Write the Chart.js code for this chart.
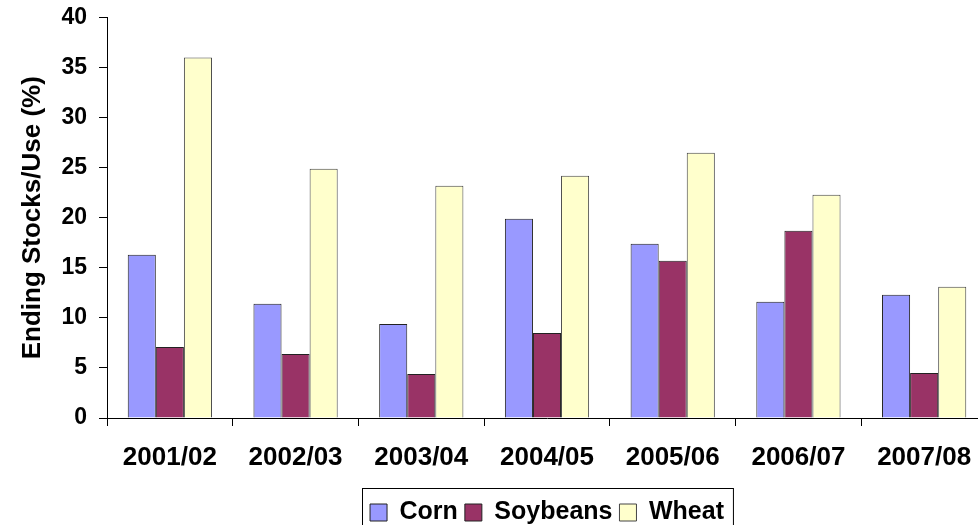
<!DOCTYPE html>
<html>
<head>
<meta charset="utf-8">
<script src="https://cdn.jsdelivr.net/npm/chart.js@4.4.0/dist/chart.umd.min.js"></script>
<style>
  html, body { margin: 0; padding: 0; background: #fff; overflow: hidden; }
  #wrap { width: 990px; height: 545px; }
</style>
</head>
<body>
<div id="wrap"><canvas id="c"></canvas></div>
<script>
'use strict';

const seasons  = ['2001/02', '2002/03', '2003/04', '2004/05', '2005/06', '2006/07', '2007/08'];
const corn     = [16.3, 11.4, 9.4, 19.9, 17.4, 11.6, 12.3];
const soybeans = [7.1, 6.4, 4.4, 8.5, 15.7, 18.7, 4.5];
const wheat    = [36.0, 24.9, 23.2, 24.2, 26.5, 22.3, 13.1];
const yTicks   = [0, 5, 10, 15, 20, 25, 30, 35, 40];

const FONT = '"Liberation Sans", Arial, sans-serif';

// frame round the legend, as in the Excel original
const legendFrame = {
  id: 'legendFrame',
  afterDraw(chart) {
    const boxes = chart.legend && chart.legend.legendHitBoxes;
    if (!boxes || !boxes.length) return;
    const left  = boxes[0].left - 8;
    const right = boxes[boxes.length - 1].left + boxes[boxes.length - 1].width + 9;
    const top   = boxes[0].top - 12;
    const ctx = chart.ctx;
    ctx.save();
    ctx.strokeStyle = '#000';
    ctx.lineWidth = 1;
    ctx.strokeRect(Math.round(left) + 0.5, Math.round(top) + 0.5, right - left, 60);
    ctx.restore();
  }
};

new Chart(document.getElementById('c').getContext('2d'), {
  type: 'bar',
  data: {
    labels: seasons,
    datasets: [
      { label: 'Corn',     data: corn,     backgroundColor: '#9999FF', borderColor: '#222', borderWidth: 1 },
      { label: 'Soybeans', data: soybeans, backgroundColor: '#993366', borderColor: '#222', borderWidth: 1 },
      { label: 'Wheat',    data: wheat,    backgroundColor: '#FFFFCC', borderColor: '#444', borderWidth: 1 },
    ]
  },
  options: {
    responsive: true,
    maintainAspectRatio: false,
    animation: false,
    layout: { padding: { top: 17.5, right: 3, bottom: 10, left: 0 } },
    datasets: { bar: { categoryPercentage: 0.67, barPercentage: 1.0 } },
    plugins: {
      tooltip: { enabled: false },
      legend: {
        position: 'bottom',
        fullSize: false,
        labels: {
          color: '#000',
          font: { family: FONT, size: 25, weight: 'bold' },
          boxWidth: 17, boxHeight: 17, padding: 7,
        }
      }
    },
    scales: {
      x: {
        grid: { display: true, offset: true, drawOnChartArea: false, color: '#000', tickLength: 8 },
        border: { display: true, color: '#000', width: 1 },
        ticks: { color: '#000', font: { family: FONT, size: 26, weight: 'bold' }, padding: 16, maxRotation: 0 },
        afterFit: s => { s.height = 75; }
      },
      y: {
        min: 0, max: 40,
        afterBuildTicks: s => { s.ticks = yTicks.map(v => ({ value: v })); },
        grid: { display: true, drawOnChartArea: false, color: '#000', tickLength: 8 },
        border: { display: true, color: '#000', width: 1 },
        ticks: { color: '#000', font: { family: FONT, size: 23, weight: 'bold' }, padding: 12 },
        title: {
          display: true, text: 'Ending Stocks/Use (%)', color: '#000',
          font: { family: FONT, size: 26, weight: 'bold' }, padding: { top: 17, bottom: 0 }
        },
        afterFit: s => { s.width = 107; s.paddingTop = 0; s.paddingBottom = 0; }
      }
    }
  },
  plugins: [legendFrame]
});
</script>
</body>
</html>
